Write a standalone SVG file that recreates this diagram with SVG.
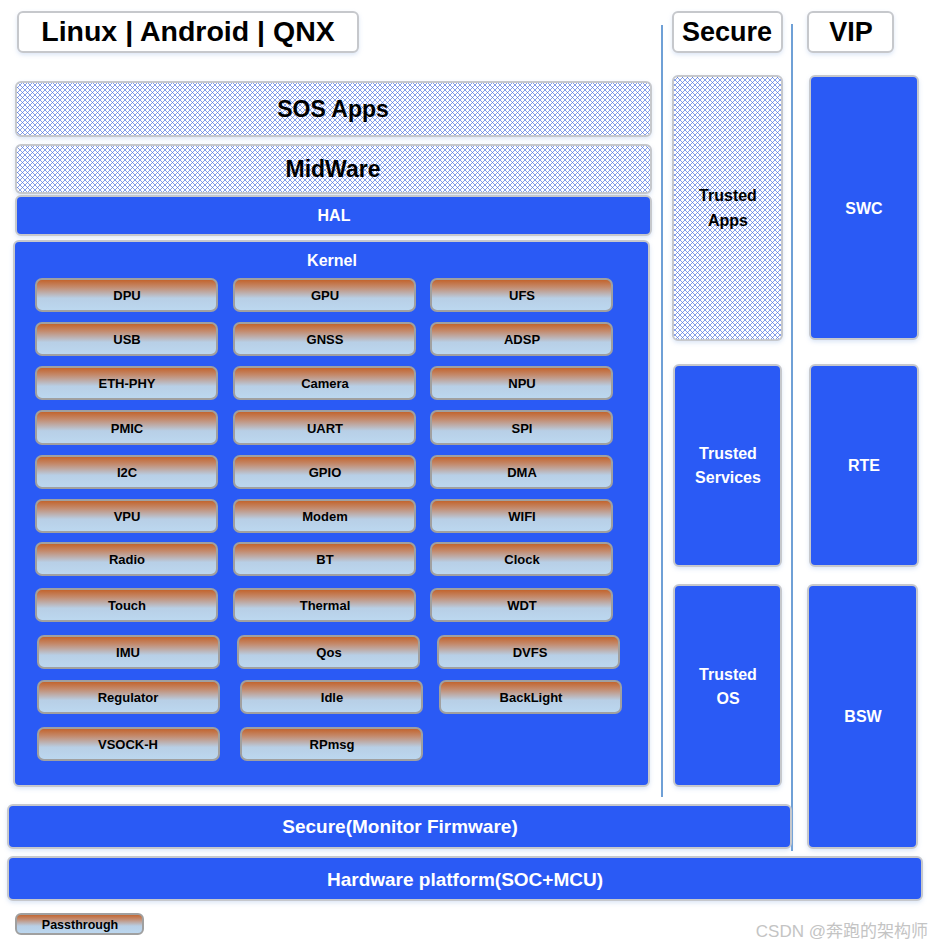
<svg xmlns="http://www.w3.org/2000/svg" width="932" height="946" viewBox="0 0 932 946">
<defs>
<pattern id="hatch" width="5" height="5" patternUnits="userSpaceOnUse">
<rect width="5" height="5" fill="#ffffff"/>
<path d="M0,0 L5,5 M5,0 L0,5" stroke="#4f74e0" stroke-width="0.7"/>
</pattern>
<linearGradient id="chip" x1="0" y1="0" x2="0" y2="1">
<stop offset="0" stop-color="#c25f25"/>
<stop offset="0.25" stop-color="#c48a6c"/>
<stop offset="0.6" stop-color="#b8cfe6"/>
<stop offset="1" stop-color="#bcd8f0"/>
</linearGradient>
<filter id="glow" x="-10%" y="-10%" width="120%" height="130%">
<feDropShadow dx="0" dy="2" stdDeviation="2" flood-color="#9ab8e6" flood-opacity="0.35"/>
</filter>
</defs>
<style>
.box{stroke:#c6c8cc;stroke-width:2;filter:url(#glow)}
.blue{fill:#2a5af5}
.hat{fill:url(#hatch)}
.hdr{fill:#ffffff}
.chip{fill:url(#chip);stroke:#a0a0a0;stroke-width:2}
.t{font-family:"Liberation Sans",Arial,sans-serif;font-weight:bold;text-anchor:middle}
.w{fill:#ffffff}
.k{fill:#000000}
.c{font-size:13px;fill:#000}
.sep{stroke:#6fa0d6;stroke-width:2}
</style>

<g id="connectors">
<line class="sep" x1="662" y1="25" x2="662" y2="797"/>
<line class="sep" x1="792" y1="24" x2="792" y2="851"/>
</g>

<g id="hdr-linux"><rect class="box hdr" x="18" y="12" width="340" height="40" rx="5"/><text class="t k" x="188" y="41" font-size="28.5">Linux | Android | QNX</text></g>
<g id="hdr-secure"><rect class="box hdr" x="673" y="12" width="109" height="40" rx="5"/><text class="t k" x="727" y="41" font-size="27">Secure</text></g>
<g id="hdr-vip"><rect class="box hdr" x="808" y="12" width="85" height="40" rx="5"/><text class="t k" x="851" y="41" font-size="27">VIP</text></g>

<g id="sos-apps"><rect class="box hat" x="16" y="82" width="635" height="54" rx="5"/><text class="t k" x="333" y="117" font-size="23">SOS Apps</text></g>
<g id="midware"><rect class="box hat" x="16" y="145" width="635" height="48" rx="5"/><text class="t k" x="333" y="177" font-size="23">MidWare</text></g>
<g id="hal"><rect class="box blue" x="16" y="196" width="635" height="39" rx="5"/><text class="t w" x="334" y="221" font-size="16">HAL</text></g>

<g id="kernel"><rect class="box blue" x="14" y="241" width="635" height="545" rx="5"/><text class="t w" x="332" y="266" font-size="16">Kernel</text></g>

<g id="chips">
<g id="c-dpu"><rect class="chip" x="36" y="279" width="181" height="32" rx="6"/><text class="t c" x="127" y="300">DPU</text></g>
<g id="c-gpu"><rect class="chip" x="234" y="279" width="181" height="32" rx="6"/><text class="t c" x="325" y="300">GPU</text></g>
<g id="c-ufs"><rect class="chip" x="431" y="279" width="181" height="32" rx="6"/><text class="t c" x="522" y="300">UFS</text></g>

<g id="c-usb"><rect class="chip" x="36" y="323" width="181" height="32" rx="6"/><text class="t c" x="127" y="344">USB</text></g>
<g id="c-gnss"><rect class="chip" x="234" y="323" width="181" height="32" rx="6"/><text class="t c" x="325" y="344">GNSS</text></g>
<g id="c-adsp"><rect class="chip" x="431" y="323" width="181" height="32" rx="6"/><text class="t c" x="522" y="344">ADSP</text></g>

<g id="c-eth"><rect class="chip" x="36" y="367" width="181" height="32" rx="6"/><text class="t c" x="127" y="388">ETH-PHY</text></g>
<g id="c-camera"><rect class="chip" x="234" y="367" width="181" height="32" rx="6"/><text class="t c" x="325" y="388">Camera</text></g>
<g id="c-npu"><rect class="chip" x="431" y="367" width="181" height="32" rx="6"/><text class="t c" x="522" y="388">NPU</text></g>

<g id="c-pmic"><rect class="chip" x="36" y="411" width="181" height="33" rx="6"/><text class="t c" x="127" y="433">PMIC</text></g>
<g id="c-uart"><rect class="chip" x="234" y="411" width="181" height="33" rx="6"/><text class="t c" x="325" y="433">UART</text></g>
<g id="c-spi"><rect class="chip" x="431" y="411" width="181" height="33" rx="6"/><text class="t c" x="522" y="433">SPI</text></g>

<g id="c-i2c"><rect class="chip" x="36" y="456" width="181" height="32" rx="6"/><text class="t c" x="127" y="477">I2C</text></g>
<g id="c-gpio"><rect class="chip" x="234" y="456" width="181" height="32" rx="6"/><text class="t c" x="325" y="477">GPIO</text></g>
<g id="c-dma"><rect class="chip" x="431" y="456" width="181" height="32" rx="6"/><text class="t c" x="522" y="477">DMA</text></g>

<g id="c-vpu"><rect class="chip" x="36" y="500" width="181" height="32" rx="6"/><text class="t c" x="127" y="521">VPU</text></g>
<g id="c-modem"><rect class="chip" x="234" y="500" width="181" height="32" rx="6"/><text class="t c" x="325" y="521">Modem</text></g>
<g id="c-wifi"><rect class="chip" x="431" y="500" width="181" height="32" rx="6"/><text class="t c" x="522" y="521">WIFI</text></g>

<g id="c-radio"><rect class="chip" x="36" y="543" width="181" height="32" rx="6"/><text class="t c" x="127" y="564">Radio</text></g>
<g id="c-bt"><rect class="chip" x="234" y="543" width="181" height="32" rx="6"/><text class="t c" x="325" y="564">BT</text></g>
<g id="c-clock"><rect class="chip" x="431" y="543" width="181" height="32" rx="6"/><text class="t c" x="522" y="564">Clock</text></g>

<g id="c-touch"><rect class="chip" x="36" y="589" width="181" height="32" rx="6"/><text class="t c" x="127" y="610">Touch</text></g>
<g id="c-thermal"><rect class="chip" x="234" y="589" width="181" height="32" rx="6"/><text class="t c" x="325" y="610">Thermal</text></g>
<g id="c-wdt"><rect class="chip" x="431" y="589" width="181" height="32" rx="6"/><text class="t c" x="522" y="610">WDT</text></g>

<g id="c-imu"><rect class="chip" x="38" y="636" width="181" height="32" rx="6"/><text class="t c" x="128" y="657">IMU</text></g>
<g id="c-qos"><rect class="chip" x="238" y="636" width="181" height="32" rx="6"/><text class="t c" x="329" y="657">Qos</text></g>
<g id="c-dvfs"><rect class="chip" x="438" y="636" width="181" height="32" rx="6"/><text class="t c" x="530" y="657">DVFS</text></g>

<g id="c-regulator"><rect class="chip" x="38" y="681" width="181" height="32" rx="6"/><text class="t c" x="128" y="702">Regulator</text></g>
<g id="c-idle"><rect class="chip" x="241" y="681" width="181" height="32" rx="6"/><text class="t c" x="332" y="702">Idle</text></g>
<g id="c-backlight"><rect class="chip" x="440" y="681" width="181" height="32" rx="6"/><text class="t c" x="531" y="702">BackLight</text></g>

<g id="c-vsock"><rect class="chip" x="38" y="728" width="181" height="32" rx="6"/><text class="t c" x="128" y="749">VSOCK-H</text></g>
<g id="c-rpmsg"><rect class="chip" x="241" y="728" width="181" height="32" rx="6"/><text class="t c" x="332" y="749">RPmsg</text></g>
</g>

<g id="trusted-apps"><rect class="box hat" x="673" y="76" width="109" height="264" rx="5"/><text class="t k" font-size="16"><tspan x="728" y="201">Trusted</tspan><tspan x="728" y="226">Apps</tspan></text></g>
<g id="trusted-services"><rect class="box blue" x="674" y="365" width="107" height="201" rx="5"/><text class="t w" font-size="16"><tspan x="728" y="459">Trusted</tspan><tspan x="728" y="483">Services</tspan></text></g>
<g id="trusted-os"><rect class="box blue" x="674" y="585" width="107" height="201" rx="5"/><text class="t w" font-size="16"><tspan x="728" y="680">Trusted</tspan><tspan x="728" y="704">OS</tspan></text></g>

<g id="swc"><rect class="box blue" x="810" y="76" width="108" height="263" rx="5"/><text class="t w" x="864" y="214" font-size="16">SWC</text></g>
<g id="rte"><rect class="box blue" x="810" y="365" width="108" height="201" rx="5"/><text class="t w" x="864" y="471" font-size="16">RTE</text></g>
<g id="bsw"><rect class="box blue" x="808" y="585" width="109" height="263" rx="5"/><text class="t w" x="863" y="722" font-size="16">BSW</text></g>

<g id="secure-monitor"><rect class="box blue" x="8" y="805" width="783" height="43" rx="5"/><text class="t w" x="400" y="833" font-size="19">Secure(Monitor Firmware)</text></g>
<g id="hardware"><rect class="box blue" x="8" y="857" width="914" height="43" rx="5"/><text class="t w" x="465" y="886" font-size="19">Hardware platform(SOC+MCU)</text></g>

<g id="legend-passthrough"><rect class="chip" x="16" y="914" width="127" height="20" rx="5"/><text class="t" x="80" y="929" font-size="12.5">Passthrough</text></g>

<text x="928" y="937" font-family="'Liberation Sans','Noto Sans CJK SC',sans-serif" font-size="17" fill="#c4c4c4" text-anchor="end">CSDN @奔跑的架构师</text>
</svg>
